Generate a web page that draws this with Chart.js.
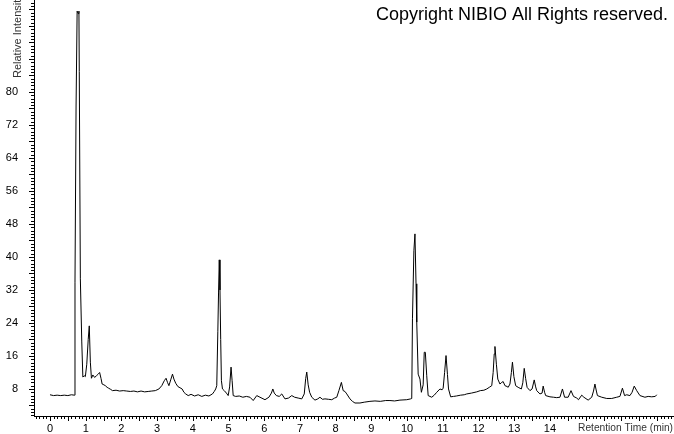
<!DOCTYPE html>
<html>
<head>
<meta charset="utf-8">
<script src="https://cdn.jsdelivr.net/npm/chart.js@4/dist/chart.umd.min.js"></script>
<style>
  html, body { margin: 0; padding: 0; background: #fff; }
  #wrap { width: 674px; height: 434px; position: relative; }
</style>
</head>
<body>
<div id="wrap"><canvas id="chromChart"></canvas></div>
<script>
// retention time (min) and relative intensity
var retentionTime = [
  0.00, 0.10, 0.20, 0.30, 0.40, 0.50, 0.60, 0.68, 0.70, 0.73, 0.76, 0.79, 0.81, 0.82, 0.85, 0.89, 0.92, 0.96, 0.99,
  1.03, 1.07, 1.10, 1.13, 1.16, 1.20, 1.25, 1.30, 1.35, 1.39, 1.43, 1.46, 1.51, 1.55, 1.60, 1.64, 1.70, 1.75, 1.85, 1.95,
  2.05, 2.15, 2.25, 2.35, 2.45, 2.55, 2.65, 2.75, 2.85, 2.95,
  3.05, 3.13, 3.20, 3.25, 3.29, 3.33, 3.38, 3.43, 3.47, 3.52, 3.58, 3.64, 3.70, 3.75, 3.80, 3.87, 3.95,
  4.05, 4.15, 4.25, 4.35, 4.45, 4.55, 4.60, 4.64, 4.67, 4.70, 4.72, 4.74, 4.76, 4.78, 4.80, 4.83, 4.88, 4.94, 4.99,
  5.03, 5.07, 5.10, 5.13, 5.20, 5.30, 5.40, 5.50, 5.60, 5.69, 5.79, 5.88,
  6.02, 6.13, 6.20, 6.24, 6.28, 6.34, 6.42, 6.49, 6.58, 6.68, 6.77, 6.85, 6.95,
  7.05, 7.12, 7.16, 7.19, 7.23, 7.27, 7.33, 7.42, 7.50, 7.56, 7.63, 7.70, 7.80, 7.89, 7.97,
  8.03, 8.09, 8.16, 8.21, 8.26, 8.31, 8.40, 8.47, 8.54, 8.68, 8.80, 8.96,
  9.10, 9.25, 9.40, 9.52, 9.65, 9.80, 9.99,
  10.10, 10.13, 10.15, 10.19, 10.22, 10.25, 10.27, 10.31, 10.36, 10.40, 10.45, 10.48, 10.51, 10.55, 10.59, 10.69, 10.76, 10.83, 10.92, 10.98,
  11.01, 11.05, 11.09, 11.13, 11.16, 11.22, 11.30, 11.38, 11.50, 11.60, 11.67, 11.80, 11.95,
  12.05, 12.15, 12.23, 12.30, 12.37, 12.41, 12.44, 12.46, 12.50, 12.54, 12.60, 12.65, 12.69, 12.74, 12.80, 12.83, 12.88, 12.92, 12.95, 12.99,
  13.04, 13.11, 13.20, 13.24, 13.28, 13.32, 13.36, 13.44, 13.50, 13.56, 13.60, 13.63, 13.72, 13.78, 13.81, 13.85, 13.88,
  14.00, 14.10, 14.19, 14.28, 14.35, 14.41, 14.51, 14.59, 14.66, 14.75, 14.80, 14.89, 14.95,
  15.07, 15.17, 15.22, 15.26, 15.30, 15.33, 15.45, 15.59, 15.73, 15.87, 15.96,
  16.03, 16.09, 16.15, 16.24, 16.30, 16.36, 16.43, 16.52, 16.66, 16.75, 16.85, 16.95, 16.99
];
var intensity = [
  6.6, 6.4, 6.5, 6.4, 6.5, 6.4, 6.6, 6.5, 33.9, 76.6, 99.6, 99.0, 99.6, 85.0, 34.7, 19.4, 10.9, 11.2, 11.0,
  14.0, 20.0, 23.3, 14.5, 10.6, 11.4, 10.8, 11.2, 11.6, 12.0, 10.5, 9.2, 9.0, 8.8, 8.4, 8.2, 7.9, 7.6, 7.7, 7.5,
  7.6, 7.5, 7.4, 7.5, 7.3, 7.5, 7.3, 7.4, 7.5, 7.6,
  8.0, 8.8, 10.0, 10.6, 9.6, 8.8, 10.2, 11.6, 10.4, 9.4, 8.6, 8.3, 8.0, 7.2, 6.8, 6.4, 6.7,
  6.3, 6.6, 6.2, 6.5, 6.3, 6.8, 7.4, 8.0, 8.8, 22.0, 31.5, 39.3, 32.0, 20.0, 10.0, 8.0, 7.6, 7.0, 6.4,
  8.5, 13.3, 10.0, 6.4, 6.2, 6.3, 6.0, 6.2, 6.0, 5.2, 6.4, 6.0,
  5.4, 6.0, 7.0, 8.0, 7.0, 6.4, 6.2, 6.8, 5.6, 5.8, 6.4, 6.0, 5.8,
  5.6, 6.8, 10.5, 12.1, 9.0, 7.2, 6.0, 5.3, 5.6, 6.0, 5.5, 5.6, 5.5, 5.4, 5.8,
  6.0, 7.6, 9.6, 7.6, 7.4, 6.8, 5.6, 5.0, 4.6, 4.6, 4.8, 5.0,
  5.1, 5.0, 5.2, 5.2, 5.1, 5.3, 5.4,
  5.6, 5.7, 25.0, 41.5, 45.6, 33.5, 24.2, 11.6, 10.4, 7.2, 9.0, 16.9, 16.9, 11.2, 6.4, 6.0, 6.5, 7.2, 8.0, 7.8,
  8.2, 12.0, 16.1, 11.5, 8.0, 6.1, 6.2, 6.3, 6.5, 6.6, 6.8, 7.0, 7.3,
  7.6, 7.7, 8.0, 8.4, 8.8, 12.0, 16.5, 18.3, 14.0, 10.4, 9.2, 9.6, 9.8, 8.8, 8.6, 8.4, 9.2, 12.0, 14.5, 11.0,
  8.8, 8.4, 8.0, 9.5, 13.0, 10.5, 8.4, 7.6, 8.0, 10.2, 8.5, 7.6, 6.8, 7.0, 8.7, 7.2, 6.4,
  6.1, 6.0, 5.9, 6.0, 8.0, 6.0, 6.0, 7.6, 6.2, 5.8, 5.4, 6.5, 6.0,
  5.3, 6.0, 7.5, 9.2, 7.5, 6.4, 6.0, 5.7, 5.7, 6.0, 6.2,
  8.2, 6.4, 6.6, 6.4, 7.2, 8.7, 7.6, 6.4, 6.0, 6.2, 6.1, 6.2, 6.6
];

// axis labels shown on the picture
var xTickLabels = [0, 1, 2, 3, 4, 5, 6, 7, 8, 9, 10, 11, 12, 13, 14];
var yTickLabels = [8, 16, 24, 32, 40, 48, 56, 64, 72, 80];

var points = retentionTime.map(function (t, i) { return { x: t, y: intensity[i] }; });

var tickFont = { family: 'Arial, "Liberation Sans", sans-serif', size: 11 };

// minor / major tick marks along both axes, plus the loose texts
var tickMarks = {
  id: 'tickMarks',
  afterDraw: function (chart) {
    var ctx = chart.ctx, x = chart.scales.x, y = chart.scales.y, area = chart.chartArea;
    ctx.save();
    ctx.strokeStyle = '#000';
    ctx.lineWidth = 1;
    ctx.beginPath();
    for (var i = Math.ceil(x.min * 10); i <= Math.floor(x.max * 10); i++) {
      var px = Math.round(x.getPixelForValue(i / 10)) + 0.5;
      var len = (i % 5 === 0) ? 5 : 3;
      ctx.moveTo(px, area.bottom);
      ctx.lineTo(px, area.bottom + len);
    }
    for (var j = Math.ceil(y.min / 0.8); j <= Math.floor(y.max / 0.8); j++) {
      var py = Math.round(y.getPixelForValue(j * 0.8)) + 0.5;
      var l = (j % 5 === 0) ? 5 : 3;
      ctx.moveTo(area.left, py);
      ctx.lineTo(area.left - l, py);
    }
    ctx.stroke();

    ctx.fillStyle = '#000';
    ctx.font = '18px Arial, "Liberation Sans", sans-serif';
    ctx.textAlign = 'right';
    ctx.textBaseline = 'alphabetic';
    ctx.fillText('Copyright NIBIO All Rights reserved.', 668, 20);

    ctx.font = '11px Arial, "Liberation Sans", sans-serif';
    ctx.fillStyle = '#333';
    ctx.textAlign = 'right';
    ctx.textBaseline = 'middle';
    ctx.fillText('Retention Time (min)', 673, 428, 95);

    ctx.textAlign = 'left';
    ctx.translate(18, 78);
    ctx.rotate(-Math.PI / 2);
    ctx.fillText('Relative Intensity', 0, 0);
    ctx.restore();
  }
};

var ctx = document.getElementById('chromChart').getContext('2d');
var myChart = new Chart(ctx, {
  type: 'line',
  data: {
    datasets: [{
      label: 'Relative Intensity',
      data: points,
      borderColor: '#000',
      borderWidth: 1,
      pointRadius: 0,
      tension: 0,
      fill: false
    }]
  },
  options: {
    responsive: true,
    maintainAspectRatio: false,
    animation: false,
    layout: { padding: 0 },
    plugins: {
      legend: { display: false },
      tooltip: { enabled: false }
    },
    scales: {
      x: {
        type: 'linear',
        min: -0.448,
        max: 17.474,
        grid: { display: false, drawTicks: false },
        border: { display: true, color: '#000', width: 1 },
        ticks: {
          stepSize: 1,
          includeBounds: false,
          padding: 6,
          color: '#000',
          font: tickFont,
          maxRotation: 0,
          autoSkip: false,
          callback: function (v) {
            var r = Math.round(v);
            return (Math.abs(v - r) < 1e-6 && xTickLabels.indexOf(r) >= 0) ? String(r) : '';
          }
        },
        afterFit: function (scale) {
          scale.height = 18;
          scale.paddingLeft = 0;
          scale.paddingRight = 0;
        }
      },
      y: {
        min: 1.45,
        max: 102.3,
        grid: { display: false, drawTicks: false },
        border: { display: true, color: '#000', width: 1 },
        ticks: {
          stepSize: 8,
          includeBounds: false,
          padding: 16,
          color: '#000',
          font: tickFont,
          autoSkip: false,
          callback: function (v) {
            var r = Math.round(v);
            return (Math.abs(v - r) < 1e-6 && yTickLabels.indexOf(r) >= 0) ? String(r) : '';
          }
        },
        afterFit: function (scale) {
          scale.width = 34;
          scale.paddingTop = 0;
          scale.paddingBottom = 0;
        }
      }
    }
  },
  plugins: [tickMarks]
});
</script>
</body>
</html>
